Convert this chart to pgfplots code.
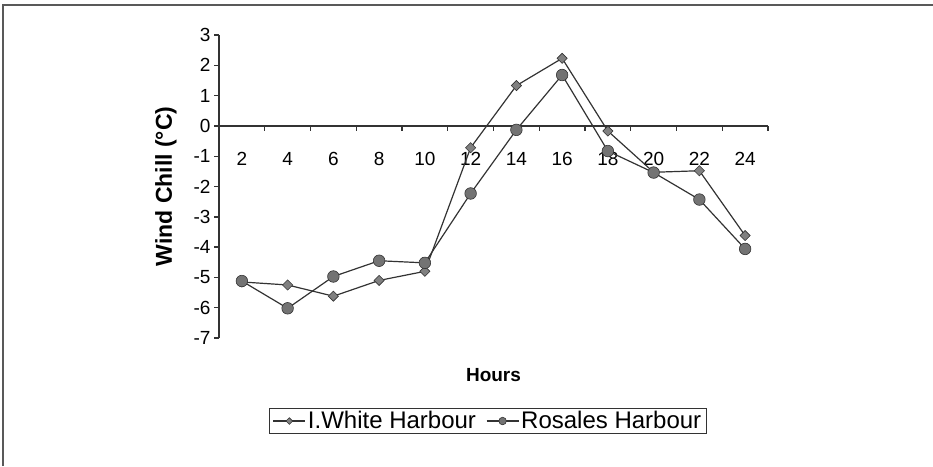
\documentclass[border=0pt]{standalone}
\usepackage{fontspec}
\setmainfont{Liberation Sans}
\usepackage{pgfplots}
\pgfplotsset{compat=1.18}
\begin{document}
\begin{tikzpicture}
\useasboundingbox (0,0) rectangle (933pt,-466pt);
\draw[line width=2pt, color=black!65] (3pt,-466pt) -- (3pt,-5pt) -- (933pt,-5pt);
\begin{axis}[
  axis x line*=middle,
  axis y line*=left,
  every axis x label/.style={at={(rel axis cs:0.5,0)}, anchor=center, yshift=-37pt},
  every axis y label/.style={at={(rel axis cs:0,0.5)}, xshift=-53pt, rotate=90, anchor=center},
  scale only axis,
  width=549pt, height=303pt,
  at={(219pt,-338pt)}, anchor=south west,
  xmin=0.5, xmax=12.5, ymin=-7, ymax=3,
  hide obscured x ticks=false, hide obscured y ticks=false,
  tick align=outside,
  major tick length=5pt,
  axis line style={line width=1.4pt, color=black!80},
  every tick/.style={line width=1.4pt, color=black!80},
  xtick={0.5,1.5,...,12.5}, xticklabels=\empty,
  extra x ticks={1,2,3,4,5,6,7,8,9,10,11,12},
  extra x tick labels={2,4,6,8,10,12,14,16,18,20,22,24},
  extra x tick style={major tick length=0pt, tick label style={anchor=center, yshift=-33pt}},
  ytick={-7,-6,-5,-4,-3,-2,-1,0,1,2,3},
  yticklabels={-7,-6,-5,-4,-3,-2,-1,0,1,2,3},
  tick label style={font=\fontsize{19}{21}\selectfont},
  xlabel={Hours},
  xlabel style={font=\fontsize{19}{22}\selectfont\bfseries},
  ylabel={Wind Chill (°C)},
  ylabel style={font=\fontsize{23}{26}\selectfont\bfseries},
  legend columns=2,
  legend style={at={(rel axis cs:0.49,-0.274)}, anchor=center, draw=black!80, line width=1.4pt,
    font=\fontsize{24}{28}\selectfont, inner xsep=3pt, inner ysep=1pt,
    /tikz/every even column/.append style={column sep=8pt}},
  legend image code/.code={\draw[mark repeat=2,mark phase=2,#1,every mark/.append style={scale=0.65}] plot coordinates {(0pt,0pt) (16pt,0pt) (32pt,0pt)};},
]
\addplot[color=black!80, line width=1.2pt, mark=square*, mark size=3.6pt,
  mark options={rotate=45, fill=black!50, draw=black!80, line width=0.6pt}]
  coordinates {(1,-5.15) (2,-5.25) (3,-5.62) (4,-5.1) (5,-4.8) (6,-0.72) (7,1.33) (8,2.23) (9,-0.17) (10,-1.53) (11,-1.48) (12,-3.62)};
\addlegendentry{I.White Harbour}
\addplot[color=black!80, line width=1.2pt, mark=*, mark size=5.8pt,
  mark options={fill=black!55, draw=black!80, line width=0.6pt}]
  coordinates {(1,-5.12) (2,-6.02) (3,-4.97) (4,-4.45) (5,-4.52) (6,-2.23) (7,-0.13) (8,1.68) (9,-0.83) (10,-1.54) (11,-2.43) (12,-4.06)};
\addlegendentry{Rosales Harbour}
\end{axis}
\end{tikzpicture}
\end{document}
